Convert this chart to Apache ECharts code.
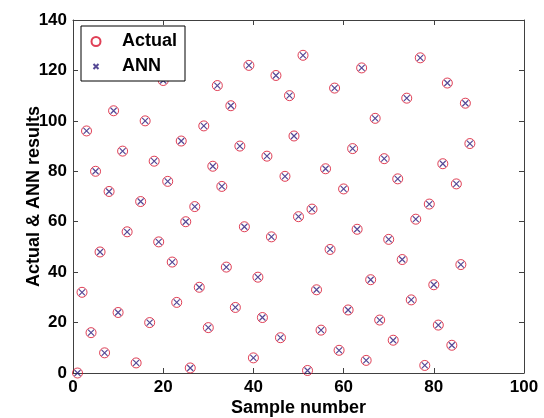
<!DOCTYPE html>
<html>
<head>
<meta charset="utf-8">
<script src="https://cdn.jsdelivr.net/npm/echarts@6/dist/echarts.min.js"></script>
<style>
  html, body { margin: 0; padding: 0; background: #fff; }
  #diagram { width: 544px; height: 418px; }
</style>
</head>
<body>
<div id="diagram"></div>
<script>
var sampleNumber = [
  1, 2, 3, 4, 5, 6, 7, 8, 9, 10, 11, 12, 13, 14, 15, 16, 17, 18, 19, 20, 21, 22,
  23, 24, 25, 26, 27, 28, 29, 30, 31, 32, 33, 34, 35, 36, 37, 38, 39, 40, 41, 42, 43, 44,
  45, 46, 47, 48, 49, 50, 51, 52, 53, 54, 55, 56, 57, 58, 59, 60, 61, 62, 63, 64, 65, 66,
  67, 68, 69, 70, 71, 72, 73, 74, 75, 76, 77, 78, 79, 80, 81, 82, 83, 84, 85, 86, 87, 88
];
var actualValues = [
  0, 32, 96, 16, 80, 48, 8, 72, 104, 24, 88, 56, 120, 4, 68, 100, 20, 84, 52, 116, 76, 44,
  28, 92, 60, 2, 66, 34, 98, 18, 82, 114, 74, 42, 106, 26, 90, 58, 122, 6, 38, 22, 86, 54,
  118, 14, 78, 110, 94, 62, 126, 1, 65, 33, 17, 81, 49, 113, 9, 73, 25, 89, 57, 121, 5, 37,
  101, 21, 85, 53, 13, 77, 45, 109, 29, 61, 125, 3, 67, 35, 19, 83, 115, 11, 75, 43, 107, 91
];
var annValues = [
  0, 32, 96, 16, 80, 48, 8, 72, 104, 24, 88, 56, 120, 4, 68, 100, 20, 84, 52, 116, 76, 44,
  28, 92, 60, 2, 66, 34, 98, 18, 82, 114, 74, 42, 106, 26, 90, 58, 122, 6, 38, 22, 86, 54,
  118, 14, 78, 110, 94, 62, 126, 1, 65, 33, 17, 81, 49, 113, 9, 73, 25, 89, 57, 121, 5, 37,
  101, 21, 85, 53, 13, 77, 45, 109, 29, 61, 125, 3, 67, 35, 19, 83, 115, 11, 75, 43, 107, 91
];
var xTicks = [0, 100, 20];   // min, max, step
var yTicks = [0, 140, 20];

function pairs(xs, ys) {
  return xs.map(function (x, i) { return [x, ys[i]]; });
}

var font = "'Liberation Sans', Arial, sans-serif";
var axisColor = "#404040";
var crossPath = "path://M0,0L10,10M10,0L0,10";

function makeAxis(ticks, pos, show) {
  return {
    type: "value",
    position: pos,
    min: ticks[0],
    max: ticks[1],
    interval: ticks[2],
    axisLine: { show: true, onZero: false, lineStyle: { color: axisColor, width: 1 } },
    axisTick: { show: true, inside: true, length: 5, lineStyle: { color: axisColor } },
    splitLine: { show: false },
    axisLabel: {
      show: show,
      color: "#000",
      fontFamily: font,
      fontWeight: "bold",
      fontSize: 17
    }
  };
}

var xBottom = makeAxis(xTicks, "bottom", true);
xBottom.axisLabel.margin = 6;
xBottom.name = "Sample number";
xBottom.nameLocation = "middle";
xBottom.nameGap = 26;
xBottom.nameMoveOverlap = false;
xBottom.nameTextStyle = { color: "#000", fontFamily: font, fontWeight: "bold", fontSize: 18 };

var yLeft = makeAxis(yTicks, "left", true);
yLeft.axisLabel.margin = 6;
yLeft.name = "Actual & ANN results";
yLeft.nameLocation = "middle";
yLeft.nameGap = 30;
yLeft.nameMoveOverlap = false;
yLeft.nameTextStyle = { color: "#000", fontFamily: font, fontWeight: "bold", fontSize: 18 };

var myChart = echarts.init(document.getElementById("diagram"));
var option = {
  animation: false,
  backgroundColor: "#fff",
  grid: { left: 73, right: 20, top: 20, bottom: 45, outerBoundsMode: "none", containLabel: false },
  legend: {
    orient: "vertical",
    left: 81,
    top: 26,
    selectedMode: false,
    backgroundColor: "#fff",
    borderColor: "#000",
    borderWidth: 1,
    borderRadius: 0,
    padding: [6, 8, 5, 8],
    itemWidth: 42,
    itemHeight: 9,
    itemGap: 6,
    textStyle: { color: "#000", fontFamily: font, fontWeight: "bold", fontSize: 18, lineHeight: 19 },
    data: [
      { name: "Actual" },
      { name: "ANN", icon: "path://M-4,-4M0,0L10,10M10,0L0,10M14,14" }
    ]
  },
  xAxis: [xBottom, makeAxis(xTicks, "top", false)],
  yAxis: [yLeft, makeAxis(yTicks, "right", false)],
  series: [
    {
      name: "Actual",
      type: "scatter",
      symbol: "circle",
      symbolSize: 10,
      itemStyle: { color: "rgba(255,255,255,0)", borderColor: "#d8102c", borderWidth: 1 },
      data: pairs(sampleNumber, actualValues)
    },
    {
      name: "ANN",
      type: "scatter",
      symbol: crossPath,
      symbolSize: 6,
      itemStyle: { color: "none", borderColor: "#2a1a7a", borderWidth: 1.2 },
      data: pairs(sampleNumber, annValues)
    }
  ]
};
myChart.setOption(option);
</script>
</body>
</html>
